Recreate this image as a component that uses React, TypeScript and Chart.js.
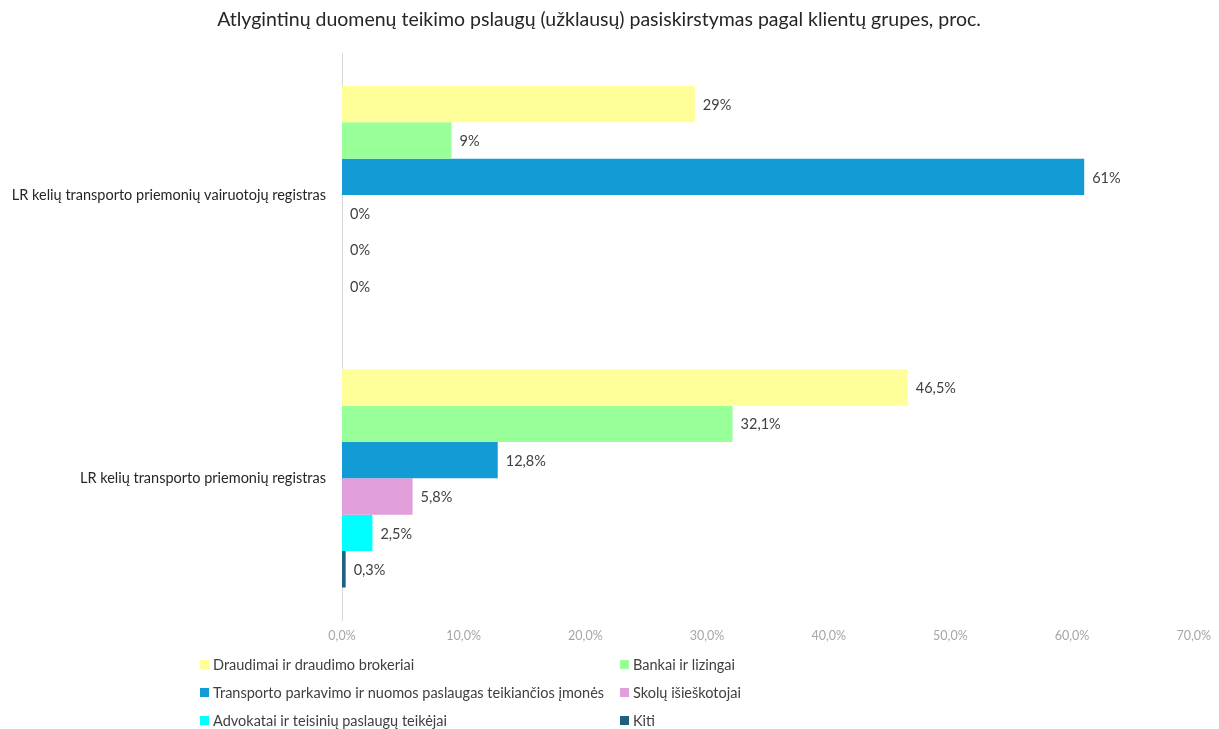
import React, { useEffect, useRef } from "react";
import { Chart, registerables } from "chart.js";

Chart.register(...registerables);

const TITLE = "Atlygintinų duomenų teikimo pslaugų (užklausų) pasiskirstymas pagal klientų grupes, proc.";

const categories = [
  "LR kelių transporto priemonių vairuotojų registras",
  "LR kelių transporto priemonių registras",
];

const seriesNames = [
  "Draudimai ir draudimo brokeriai",
  "Bankai ir lizingai",
  "Transporto parkavimo ir nuomos paslaugas teikiančios įmonės",
  "Skolų išieškotojai",
  "Advokatai ir teisinių paslaugų teikėjai",
  "Kiti",
];

const draudimai = [29, 46.5];
const bankai = [9, 32.1];
const transportas = [61, 12.8];
const skolos = [0, 5.8];
const advokatai = [0, 2.5];
const kiti = [0, 0.3];

const seriesValues = [draudimai, bankai, transportas, skolos, advokatai, kiti];

const seriesColors = ["#FFFF99", "#99FF99", "#139BD6", "#E09FDB", "#00FFFF", "#1F5F80"];

// decimals used in the value labels for each category
const labelDecimals = [0, 1];

const xTicks = [0, 10, 20, 30, 40, 50, 60, 70];

const FONT = "Lato, 'Noto Sans', sans-serif";

const fmtLabel = (v: number, decimals: number) =>
  v.toFixed(decimals).replace(".", ",") + "%";

const valueLabelPlugin = {
  id: "valueLabels",
  afterDatasetsDraw(chart: any) {
    const ctx = chart.ctx;
    ctx.save();
    ctx.font = `14.5px ${FONT}`;
    ctx.fillStyle = "#404040";
    ctx.textAlign = "left";
    ctx.textBaseline = "middle";
    chart.data.datasets.forEach((ds: any, di: number) => {
      const meta = chart.getDatasetMeta(di);
      meta.data.forEach((el: any, i: number) => {
        const v = ds.data[i];
        ctx.fillText(fmtLabel(v, labelDecimals[i]), el.x + 8, el.y + 1);
      });
    });
    ctx.restore();
  },
};

const customLegendPlugin = {
  id: "customLegend",
  afterDraw(chart: any) {
    const ctx = chart.ctx;
    ctx.save();
    ctx.font = `14.5px ${FONT}`;
    ctx.textBaseline = "middle";
    ctx.textAlign = "left";
    const colX = [200, 620];
    const rowY = [665, 693, 721];
    seriesNames.forEach((name, i) => {
      const x = colX[i % 2];
      const y = rowY[Math.floor(i / 2)];
      ctx.fillStyle = seriesColors[i];
      ctx.fillRect(x, y - 5, 9, 9);
      ctx.fillStyle = "#404040";
      ctx.fillText(name, x + 13, y);
    });
    ctx.restore();
  },
};

export default function App() {
  const canvasRef = useRef<HTMLCanvasElement | null>(null);

  useEffect(() => {
    if (!canvasRef.current) return;
    const chart = new Chart(canvasRef.current, {
      type: "bar",
      data: {
        labels: categories,
        datasets: seriesNames.map((name, i) => ({
          label: name,
          data: seriesValues[i],
          backgroundColor: seriesColors[i],
          borderWidth: 0,
          barPercentage: 1,
          categoryPercentage: 0.77,
        })),
      },
      options: {
        indexAxis: "y",
        animation: false,
        responsive: true,
        maintainAspectRatio: false,
        layout: { padding: { top: 0, right: 21, bottom: 78, left: 0 } },
        plugins: {
          legend: { display: false },
          tooltip: { enabled: false },
          title: {
            display: true,
            text: TITLE,
            color: "#262626",
            font: { family: FONT, size: 19.5, weight: "normal" },
            padding: { top: 8, bottom: 22 },
          },
        },
        scales: {
          x: {
            min: 0,
            max: 70,
            afterBuildTicks(scale: any) {
              scale.ticks = xTicks.map((v) => ({ value: v }));
            },
            grid: { display: false, drawTicks: false },
            border: { display: false },
            ticks: {
              color: "#A6A6A6",
              font: { family: FONT, size: 12.5 },
              padding: 8,
              callback: (v: any) => Number(v).toFixed(1).replace(".", ",") + "%",
            },
          },
          y: {
            afterFit(scale: any) {
              scale.width = 342;
            },
            grid: { display: false, drawTicks: false },
            border: { display: true, color: "#D9D9D9", width: 1 },
            ticks: {
              color: "#262626",
              font: { family: FONT, size: 14.5 },
              padding: 16,
            },
          },
        },
      },
      plugins: [valueLabelPlugin, customLegendPlugin],
    });
    return () => chart.destroy();
  }, []);

  return (
    <div style={{ position: "fixed", left: 0, top: 0, width: 1219, height: 729, background: "#fff" }}>
      <canvas ref={canvasRef} />
    </div>
  );
}
